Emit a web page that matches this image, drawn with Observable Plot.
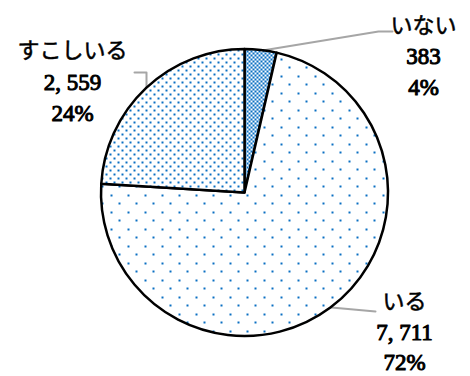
<!DOCTYPE html>
<html>
<head>
<meta charset="utf-8">
<script src="https://cdn.jsdelivr.net/npm/d3@7"></script>
<script src="https://cdn.jsdelivr.net/npm/@observablehq/plot@0.6"></script>
<style>
  html, body { margin: 0; padding: 0; background: #fff; }
  #chart svg { display: block; }
</style>
</head>
<body>
<div id="chart"></div>
<script>
// ---- data ----
const categories = ["いない", "いる", "すこしいる"];
const counts = [383, 7711, 2559];
const patterns = ["checker", "sparse", "dense"];

// ---- layout (pixels) ----
const W = 470, H = 376;
const center = [244.5, 192.5];
const radius = 143.5;
const blue = "#0a6fc2";
const leaderColor = "#a6a6a6";
const labelLayout = {
  "いない":   {x: 423, y: [25, 56, 87], line: [[262, 50], [378, 31], [392, 31]]},
  "いる":     {x: 404, y: [301, 332, 362], line: [[331, 307], [375, 311]]},
  "すこしいる": {x: 72, y: [50, 82, 113], line: [[146, 87], [146, 72], [134, 72]]}
};

const total = d3.sum(counts);
const slices = categories.map((c, i) => ({
  category: c, count: counts[i], pattern: patterns[i],
  pct: Math.round(counts[i] / total * 100)
}));

const pie = d3.pie().sort(null).value(d => d.count)(slices);

// text rows
const textRows = [];
slices.forEach(s => {
  const L = labelLayout[s.category];
  textRows.push({x: L.x, y: L.y[0], text: s.category, kind: "name"});
  textRows.push({x: L.x, y: L.y[1], text: d3.format(",")(s.count).replace(",", ", "), kind: "num"});
  textRows.push({x: L.x, y: L.y[2], text: s.pct + "%", kind: "num"});
});
const leaderRows = [];
slices.forEach(s => {
  labelLayout[s.category].line.forEach(p => leaderRows.push({category: s.category, x: p[0], y: p[1]}));
});

function pieMark(index, scales) {
  const sx = scales && scales.x ? scales.x : (v => v);
  const sy = scales && scales.y ? scales.y : (v => v);
  const cx = sx(center[0]), cy = sy(center[1]);
  const r = sx(center[0] + radius) - cx;
  const g = d3.create("svg:g");
  const defs = g.append("defs");
  // dense dots
  const pd = defs.append("pattern").attr("id", "pat-dense").attr("patternUnits", "userSpaceOnUse")
    .attr("width", 8).attr("height", 8);
  pd.append("rect").attr("width", 8).attr("height", 8).attr("fill", "#fff");
  [[1, 1], [5, 5]].forEach(([x, y]) => pd.append("rect").attr("x", x).attr("y", y).attr("width", 2).attr("height", 2).attr("fill", blue));
  // sparse dots
  const ps = defs.append("pattern").attr("id", "pat-sparse").attr("patternUnits", "userSpaceOnUse")
    .attr("width", 17).attr("height", 17);
  ps.append("rect").attr("width", 17).attr("height", 17).attr("fill", "#fff");
  [[2, 2], [10, 10]].forEach(([x, y]) => ps.append("rect").attr("x", x).attr("y", y).attr("width", 2).attr("height", 2).attr("fill", blue));
  // checker
  const pc = defs.append("pattern").attr("id", "pat-checker").attr("patternUnits", "userSpaceOnUse")
    .attr("width", 4).attr("height", 4);
  pc.append("rect").attr("width", 4).attr("height", 4).attr("fill", "#fff");
  [[0, 0], [2, 2]].forEach(([x, y]) => pc.append("rect").attr("x", x).attr("y", y).attr("width", 2).attr("height", 2).attr("fill", blue));

  const arc = d3.arc().innerRadius(0).outerRadius(r);
  g.append("g").attr("transform", `translate(${cx},${cy})`)
    .selectAll("path").data(pie).join("path")
    .attr("d", arc)
    .attr("fill", d => `url(#pat-${d.data.pattern})`)
    .attr("stroke", "#000")
    .attr("stroke-width", 2.5)
    .attr("stroke-linejoin", "round");
  return g.node();
}

const plot = Plot.plot({
  width: W,
  height: H,
  margin: 0,
  x: {domain: [0, W], range: [0, W], axis: null},
  y: {domain: [0, H], range: [0, H], axis: null},
  style: {background: "#fff"},
  marks: [
    Plot.line(leaderRows, {x: "x", y: "y", z: "category", stroke: leaderColor, strokeWidth: 2, curve: "linear"}),
    pieMark,
    Plot.text(textRows.filter(d => d.kind === "name"), {
      x: "x", y: "y", text: "text", fontSize: 22, fill: "#000",
      fontFamily: "'Noto Sans CJK JP', sans-serif", textAnchor: "middle",
      stroke: "#000", strokeWidth: 0.5
    }),
    Plot.text(textRows.filter(d => d.kind === "num"), {
      x: "x", y: "y", text: "text", fontSize: 23, fill: "#000",
      fontFamily: "'Liberation Serif', 'DejaVu Serif', serif", fontWeight: "normal", textAnchor: "middle",
      stroke: "#000", strokeWidth: 1
    })
  ]
});
document.getElementById("chart").append(plot);
</script>
</body>
</html>
